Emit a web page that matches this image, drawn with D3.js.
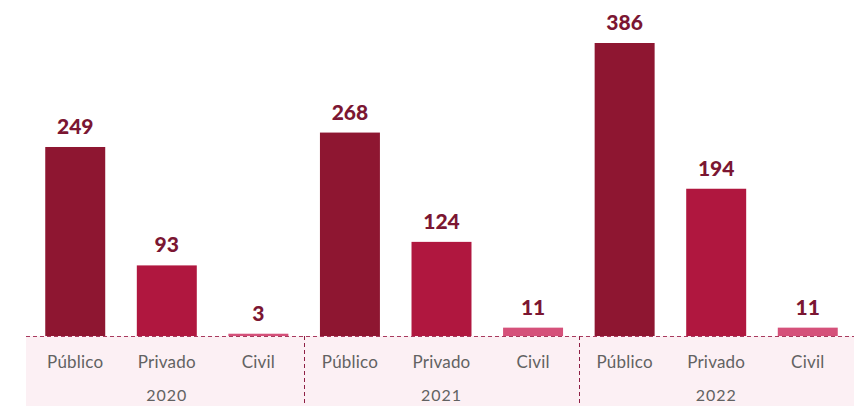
<!DOCTYPE html>
<html>
<head>
<meta charset="utf-8">
<script src="https://cdn.jsdelivr.net/npm/d3@7"></script>
<style>
  body { margin: 0; background: #fff; }
  svg { display: block; }
</style>
</head>
<body>
<div id="chart"></div>
<script>
// data
var years = ["2020", "2021", "2022"];
var sectors = ["Público", "Privado", "Civil"];
var values2020 = [249, 93, 3];
var values2021 = [268, 124, 11];
var values2022 = [386, 194, 11];

var W = 854, H = 406;
var baseY = 336;

var rows = [];
[values2020, values2021, values2022].forEach(function (vals, gi) {
    vals.forEach(function (v, si) {
        rows.push({ key: years[gi] + "-" + sectors[si], year: years[gi], sector: sectors[si], value: v });
    });
});

var svg = d3.select("#chart")
    .append("svg")
    .attr("width", W)
    .attr("height", H);

// x scale, one band per bar
var x = d3.scaleBand()
    .domain(rows.map(function (d) { return d.key; }))
    .range([29.5, 853.5])
    .paddingInner(0.345)
    .paddingOuter(0.172);

var step = x.step();
var x0 = x.range()[0];

var y = d3.scaleLinear()
    .domain([0, 386])
    .range([baseY, 43]);

var color = d3.scaleOrdinal()
    .domain(sectors)
    .range(["#8e1631", "#b0173f", "#d5517a"]);

// pink band under axis
svg.append("rect")
    .attr("x", 26)
    .attr("y", baseY)
    .attr("width", W - 26)
    .attr("height", H - baseY)
    .attr("fill", "#fcf0f4");

// bars
svg.append("g")
    .selectAll("rect")
    .data(rows)
    .enter().append("rect")
    .attr("x", function (d) { return x(d.key); })
    .attr("y", function (d) { return y(d.value); })
    .attr("width", x.bandwidth())
    .attr("height", function (d) { return baseY - y(d.value); })
    .attr("fill", function (d) { return color(d.sector); });

// value labels
svg.append("g")
    .selectAll("text")
    .data(rows)
    .enter().append("text")
    .attr("x", function (d) { return x(d.key) + x.bandwidth() / 2; })
    .attr("y", function (d) { return y(d.value) - 13; })
    .attr("text-anchor", "middle")
    .style("font-family", "Lato, sans-serif")
    .style("font-weight", "900")
    .style("font-size", "21px")
    .style("fill", "#7b1632")
    .text(function (d) { return d.value; });

// baseline dashed
svg.append("line")
    .attr("x1", 26).attr("x2", W)
    .attr("y1", baseY + 0.5).attr("y2", baseY + 0.5)
    .attr("stroke", "#a83a5e")
    .attr("stroke-width", 1)
    .attr("stroke-dasharray", "4,3");

// group separators
svg.append("g")
    .selectAll("line")
    .data([1, 2])
    .enter().append("line")
    .attr("x1", function (d) { return Math.round(x0 + d * 3 * step) + 0.5; })
    .attr("x2", function (d) { return Math.round(x0 + d * 3 * step) + 0.5; })
    .attr("y1", baseY)
    .attr("y2", H)
    .attr("stroke", "#8e1f44")
    .attr("stroke-width", 1)
    .attr("stroke-dasharray", "4,3");

// sector labels
svg.append("g")
    .selectAll("text")
    .data(rows)
    .enter().append("text")
    .attr("x", function (d) { return x(d.key) + x.bandwidth() / 2; })
    .attr("y", 368)
    .attr("text-anchor", "middle")
    .style("font-family", "Lato, sans-serif")
    .style("font-weight", "400")
    .style("font-size", "17px")
    .style("letter-spacing", "0.2px")
    .style("fill", "#626262")
    .text(function (d) { return d.sector; });

// year labels
svg.append("g")
    .selectAll("text")
    .data(years)
    .enter().append("text")
    .attr("x", function (d, i) { return x0 + (i * 3 + 1.5) * step; })
    .attr("y", 401)
    .attr("text-anchor", "middle")
    .style("font-family", "Lato, sans-serif")
    .style("font-weight", "400")
    .style("font-size", "16px")
    .style("letter-spacing", "1px")
    .style("fill", "#626262")
    .text(function (d) { return d; });
</script>
</body>
</html>
